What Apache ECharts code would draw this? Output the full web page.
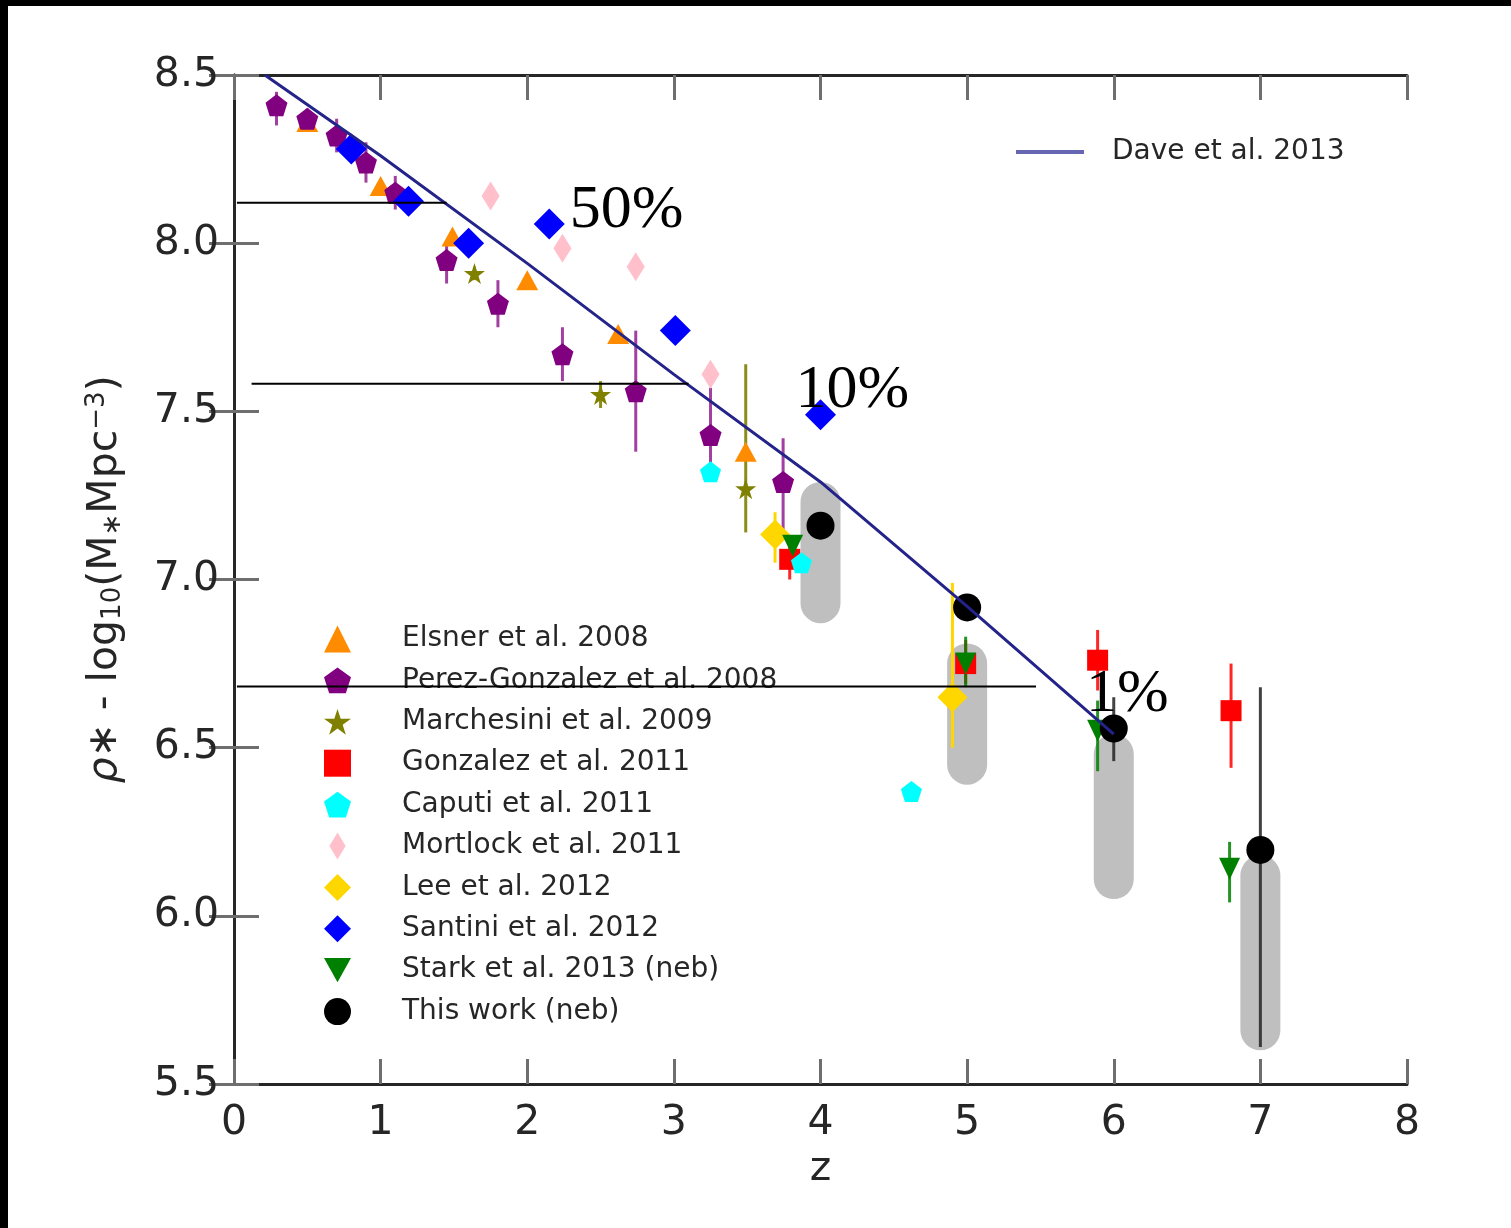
<!DOCTYPE html>
<html><head><meta charset="utf-8">
<script src="https://cdn.jsdelivr.net/npm/echarts@6/dist/echarts.min.js"></script>
<style>html,body{margin:0;padding:0;background:#fff}#c{width:1511px;height:1228px}</style>
</head><body><div id="c"></div>
<script>
// ---------- data ----------
const xTicks = [0, 1, 2, 3, 4, 5, 6, 7, 8];
const yTicks = [5.5, 6.0, 6.5, 7.0, 7.5, 8.0, 8.5];

const elsnerZ = [0.50, 1.00, 1.49, 2.00, 2.62, 3.49];
const elsnerRho = [8.36, 8.17, 8.02, 7.89, 7.73, 7.38];

const perezZ = [0.29, 0.50, 0.70, 0.90, 1.10, 1.45, 1.80, 2.24, 2.74, 3.25, 3.745];
const perezRho = [8.41, 8.37, 8.32, 8.24, 8.15, 7.95, 7.82, 7.67, 7.56, 7.43, 7.29];
const perezLo = [8.35, 8.34, 8.27, 8.18, 8.10, 7.88, 7.75, 7.59, 7.38, 7.30, 7.15];
const perezHi = [8.45, 8.40, 8.37, 8.30, 8.20, 8.00, 7.89, 7.75, 7.74, 7.57, 7.42];

const marchZ = [1.64, 2.50, 3.49];
const marchRho = [7.91, 7.55, 7.27];
const marchLo = [7.89, 7.51, 7.14];
const marchHi = [7.93, 7.59, 7.64];

const gonZ = [3.79, 4.99, 5.89, 6.80];
const gonRho = [7.06, 6.75, 6.76, 6.61];
const gonLo = [7.00, 6.69, 6.67, 6.44];
const gonHi = [7.11, 6.82, 6.85, 6.75];

const capZ = [3.25, 3.87, 4.62];
const capRho = [7.32, 7.05, 6.37];

const morZ = [1.75, 2.24, 2.74, 3.25];
const morRho = [8.14, 7.985, 7.93, 7.61];

const leeZ = [3.69, 4.90];
const leeRho = [7.134, 6.65];
const leeLo = [7.05, 6.50];
const leeHi = [7.20, 6.99];

const santZ = [0.80, 1.19, 1.60, 2.15, 3.01, 4.00];
const santRho = [8.28, 8.125, 8.00, 8.057, 7.74, 7.49];

const starkZ = [3.81, 4.99, 5.89, 6.79];
const starkRho = [7.10, 6.75, 6.55, 6.14];
const starkLo = [7.07, 6.68, 6.43, 6.04];
const starkHi = [7.13, 6.83, 6.64, 6.22];

const workZ = [4.0, 5.0, 6.0, 7.0];
const workRho = [7.16, 6.917, 6.557, 6.196];
const workLo = [7.13, 6.88, 6.46, 5.61];
const workHi = [7.19, 6.95, 6.65, 6.68];
const bandLo = [6.87, 6.39, 6.05, 5.60];
const bandHi = [7.29, 6.81, 6.54, 6.18];

const daveZ = [0.21, 1, 2, 3, 4, 5, 6];
const daveRho = [8.50, 8.26, 7.94, 7.61, 7.29, 6.92, 6.54];

const annoLineStart = [0.02, 0.12, 0.02];
const annoLineEnd = [1.45, 3.10, 5.47];
const annoLineRho = [8.12, 7.582, 6.682];
const annoText = ['50%', '10%', '1%'];
const annoTextZ = [2.29, 3.83, 5.81];
const annoTextRho = [8.095, 7.562, 6.656];

const names = ['Elsner et al. 2008', 'Perez-Gonzalez et al. 2008', 'Marchesini et al. 2009',
  'Gonzalez et al. 2011', 'Caputi et al. 2011', 'Mortlock et al. 2011', 'Lee et al. 2012',
  'Santini et al. 2012', 'Stark et al. 2013 (neb)', 'This work (neb)'];
const daveName = 'Dave et al. 2013';

// ---------- helpers ----------
const pts = (zs, ys) => zs.map((z, i) => [z, ys[i]]);
const rng = (zs, lo, hi) => zs.map((z, i) => [z, lo[i], hi[i]]);

const PENT = 'path://M0,-1L0.951,-0.309L0.588,0.809L-0.588,0.809L-0.951,-0.309Z';
const STAR = 'path://M0,-1L0.2245,-0.309L0.951,-0.309L0.363,0.118L0.588,0.809L0,0.382L-0.588,0.809L-0.363,0.118L-0.951,-0.309L-0.2245,-0.309Z';
const THIN = 'path://M0,-1L0.6,0L0,1L-0.6,0Z';
const DOWN = 'path://M-1,-0.9L1,-0.9L0,0.9Z';
const BAR = 'path://M0,0H17V1H0Z';

function errSeries(data, color, width, opacity) {
  return {
    type: 'custom', silent: true, z: 2, data: data,
    encode: { x: 0, y: [1, 2] },
    renderItem: (params, api) => {
      const a = api.coord([api.value(0), api.value(1)]);
      const b = api.coord([api.value(0), api.value(2)]);
      return { type: 'line', shape: { x1: a[0], y1: a[1], x2: b[0], y2: b[1] },
        style: { stroke: color, lineWidth: width, opacity: opacity } };
    }
  };
}
function scat(name, data, symbol, size, color) {
  return { type: 'scatter', name: name, data: data, symbol: symbol, symbolSize: size, z: 3,
    itemStyle: { color: color, opacity: 1 }, emphasis: { disabled: true } };
}

const series = [
  {
    type: 'custom', silent: true, z: 1, data: rng(workZ, bandLo, bandHi),
    encode: { x: 0, y: [1, 2] },
    renderItem: (params, api) => {
      const t = api.coord([api.value(0), api.value(2)]);
      const b = api.coord([api.value(0), api.value(1)]);
      const w = 40;
      return { type: 'rect', shape: { x: t[0] - w / 2, y: t[1], width: w, height: b[1] - t[1], r: w / 2 },
        style: { fill: '#bfbfbf' } };
    }
  },
  errSeries(rng(perezZ, perezLo, perezHi), '#800080', 3, 0.75),
  errSeries(rng(marchZ, marchLo, marchHi), '#808000', 3, 0.9),
  errSeries(rng(gonZ, gonLo, gonHi), '#ff0000', 3, 0.85),
  errSeries(rng(leeZ, leeLo, leeHi), '#ffd700', 3, 1),
  errSeries(rng(starkZ, starkLo, starkHi), '#008000', 3, 0.85),
  errSeries(rng(workZ, workLo, workHi), '#222222', 3, 0.85),
  scat(names[0], pts(elsnerZ, elsnerRho), 'triangle', [22, 20], '#ff8c00'),
  scat(names[1], pts(perezZ, perezRho), PENT, 22, '#800080'),
  scat(names[2], pts(marchZ, marchRho), STAR, 21, '#808000'),
  scat(names[3], pts(gonZ, gonRho), 'rect', 21, '#ff0000'),
  scat(names[4], pts(capZ, capRho), PENT, 21, '#00ffff'),
  scat(names[5], pts(morZ, morRho), THIN, [18, 29], '#ffc0cb'),
  scat(names[6], pts(leeZ, leeRho), 'diamond', 30, '#ffd700'),
  scat(names[7], pts(santZ, santRho), 'diamond', 31, '#0000ff'),
  scat(names[8], pts(starkZ, starkRho), DOWN, [21, 22], '#008000'),
  scat(names[9], pts(workZ, workRho), 'circle', 28, '#000000'),
  {
    type: 'line', name: daveName, data: pts(daveZ, daveRho), z: 4, symbol: 'none',
    lineStyle: { color: '#23238a', width: 3 }, itemStyle: { color: '#23238a' },
    emphasis: { disabled: true }
  },
  {
    type: 'custom', silent: true, z: 5,
    data: annoLineRho.map((y, i) => [annoLineStart[i], annoLineEnd[i], y]),
    encode: { x: [0, 1], y: 2 },
    renderItem: (params, api) => {
      const a = api.coord([api.value(0), api.value(2)]);
      const b = api.coord([api.value(1), api.value(2)]);
      return { type: 'line', shape: { x1: a[0], y1: a[1], x2: b[0], y2: b[1] },
        style: { stroke: '#000', lineWidth: 2 } };
    }
  },
  {
    type: 'scatter', silent: true, z: 6, symbolSize: 0,
    itemStyle: { opacity: 1, color: '#000' },
    data: annoText.map((t, i) => ({ name: t, value: [annoTextZ[i], annoTextRho[i]] })),
    label: { show: true, position: 'right', distance: 0, formatter: p => p.name, opacity: 1,
      fontSize: 62, fontFamily: 'Liberation Serif', color: '#000000' }
  }
];

const axisLineStyle = { color: '#262626', width: 3 };
const tickStyle = { color: '#6e6e6e', width: 3 };
const labelStyle = { fontSize: 41, color: '#262626', fontFamily: 'DejaVu Sans' };

const option = {
  animation: false,
  backgroundColor: '#ffffff',
  textStyle: { fontFamily: 'DejaVu Sans' },
  grid: { left: 234, right: 104, top: 75, bottom: 144, containLabel: false, outerBoundsMode: 'none' },
  xAxis: [
    { type: 'value', min: xTicks[0], max: xTicks[xTicks.length - 1], interval: 1, position: 'bottom',
      axisLine: { show: true, lineStyle: axisLineStyle },
      axisTick: { show: true, inside: true, length: 25, lineStyle: tickStyle },
      axisLabel: { ...labelStyle, margin: 19 }, splitLine: { show: false },
      name: 'z', nameLocation: 'middle', nameGap: 56,
      nameTextStyle: { fontSize: 41, color: '#262626', fontFamily: 'DejaVu Sans' } },
    { type: 'value', min: xTicks[0], max: xTicks[xTicks.length - 1], interval: 1, position: 'top',
      axisLine: { show: true, lineStyle: axisLineStyle },
      axisTick: { show: true, inside: true, length: 25, lineStyle: tickStyle },
      axisLabel: { show: false }, splitLine: { show: false } }
  ],
  yAxis: [
    { type: 'value', min: yTicks[0], max: yTicks[yTicks.length - 1], interval: 0.5, position: 'left',
      axisLine: { show: true, lineStyle: axisLineStyle },
      axisTick: { show: true, inside: true, length: 25, lineStyle: tickStyle },
      axisLabel: { ...labelStyle, margin: 15, formatter: v => v.toFixed(1) }, splitLine: { show: false },
      name: '{it|ρ}∗ - log{sub|10}(M{sub|∗}Mpc{sup|−3})', nameLocation: 'middle', nameGap: 108, nameRotate: 90,
      nameTextStyle: { fontSize: 41, color: '#262626', fontFamily: 'DejaVu Sans',
        rich: {
          it: { fontSize: 41, fontStyle: 'italic', fontFamily: 'DejaVu Sans', color: '#262626' },
          sub: { fontSize: 26, fontFamily: 'DejaVu Sans', color: '#262626', padding: [16, 0, 0, 0] },
          sup: { fontSize: 26, fontFamily: 'DejaVu Sans', color: '#262626', padding: [0, 0, 16, 0] }
        } } },
    { type: 'value', min: yTicks[0], max: yTicks[yTicks.length - 1], interval: 0.5, position: 'right',
      axisLine: { show: true, lineStyle: axisLineStyle },
      axisTick: { show: true, inside: true, length: 25, lineStyle: tickStyle },
      axisLabel: { show: false }, splitLine: { show: false } }
  ],
  legend: [
    { orient: 'vertical', left: 324, top: 625, padding: 0, itemWidth: 27, itemHeight: 27, itemGap: 13.4,
      selectedMode: false, data: names,
      textStyle: { fontSize: 28, color: '#262626', fontFamily: 'DejaVu Sans', padding: [0, 0, 0, 46] } },
    { orient: 'vertical', left: 1016, top: 138, padding: 0, itemWidth: 68, itemHeight: 16,
      selectedMode: false, data: [{ name: daveName, icon: BAR }],
      itemStyle: { color: '#6666b3' },
      textStyle: { fontSize: 28, color: '#262626', fontFamily: 'DejaVu Sans', padding: [0, 0, 0, 23] } }
  ],
  graphic: [
    { type: 'rect', left: 0, top: 0, shape: { width: 1511, height: 6 }, style: { fill: '#000' }, silent: true },
    { type: 'rect', left: 0, top: 0, shape: { width: 8, height: 1228 }, style: { fill: '#000' }, silent: true }
  ],
  series: series
};

const chart = echarts.init(document.getElementById('c'), null, { renderer: 'canvas' });
chart.setOption(option);
</script></body></html>
